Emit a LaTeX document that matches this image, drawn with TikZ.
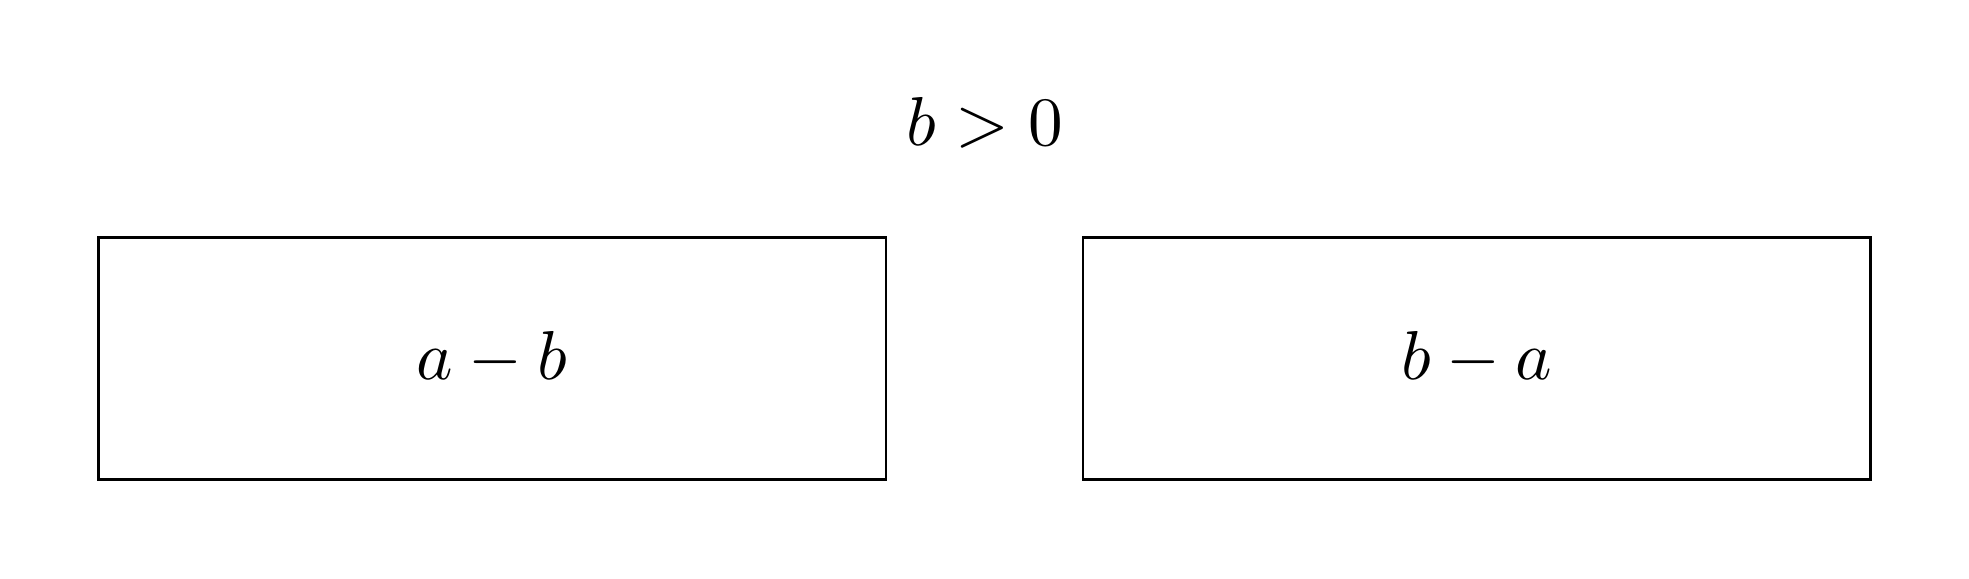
\documentclass[tikz,border=0pt]{standalone}
\usepackage{amssymb,amsmath}
\usepackage{tikz}
\usetikzlibrary{positioning}

\begin{document}
\begin{tikzpicture}
\tikzset{casebox/.style={draw, black, rectangle, inner sep=0pt, minimum width=4cm, minimum height=1.23cm}}
\useasboundingbox (0,0) rectangle (10,2.9355);
% condition on top
\node (cond) at (5,2.31) {$b>0$};
% the two cases
\node[casebox] (left) at (2.5,1.115) {$a-b$};
\node[casebox] (right) at (7.5,1.115) {$b-a$};
\end{tikzpicture}
\end{document}
